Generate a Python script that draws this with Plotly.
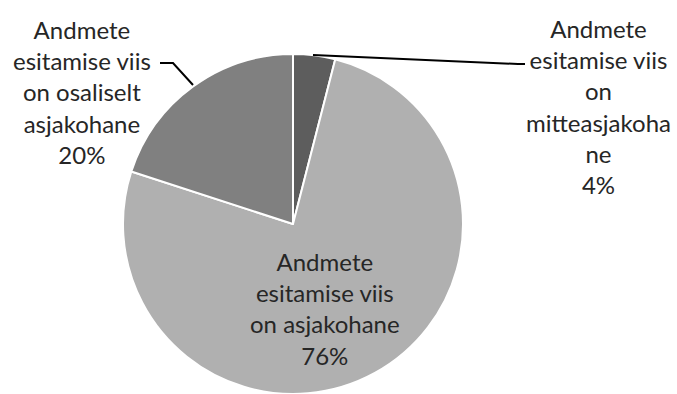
import plotly.graph_objects as go

# Survey answer shares (percent)
categories = [
    "Andmete esitamise viis on mitteasjakohane",
    "Andmete esitamise viis on asjakohane",
    "Andmete esitamise viis on osaliselt asjakohane",
]
shares = [4, 76, 20]
label_lines = [
    ["Andmete", "esitamise viis", "on", "mitteasjakoha", "ne"],
    ["Andmete", "esitamise viis", "on asjakohane"],
    ["Andmete", "esitamise viis", "on osaliselt", "asjakohane"],
]
slice_colors = ["#5d5d5d", "#b0b0b0", "#808080"]

W, H = 677, 394


def px(x, y):
    """Pixel position -> paper coordinates."""
    return x / W, 1 - y / H


fig = go.Figure(
    go.Pie(
        labels=categories,
        values=shares,
        sort=False,
        direction="clockwise",
        rotation=0,
        textinfo="none",
        hoverinfo="label+percent",
        marker=dict(colors=slice_colors, line=dict(color="white", width=2)),
        domain=dict(x=[123 / W, 463 / W], y=[0, 340 / H]),
        showlegend=False,
    )
)

font = dict(family="Lato, Calibri, sans-serif", size=24, color="#262626")
label_pos = [(598, 106), (325, 308), (82, 92)]
for lines, v, (x, y) in zip(label_lines, shares, label_pos):
    text = "<br>".join(lines + [f"{v}%"])
    ax, ay = px(x, y)
    fig.add_annotation(
        x=ax, y=ay, xref="paper", yref="paper", text=text, showarrow=False,
        font=font, align="center", xanchor="center", yanchor="middle",
    )

# Leader lines for the labels placed outside the pie
leaders = [
    [(313, 55), (518, 64), (525, 64)],
    [(193, 85), (173, 63), (160, 63)],
]
for pts in leaders:
    path = "M " + " L ".join(f"{px(x, y)[0]},{px(x, y)[1]}" for x, y in pts)
    fig.add_shape(type="path", path=path, xref="paper", yref="paper",
                  line=dict(color="black", width=2))

fig.update_layout(
    width=W, height=H,
    margin=dict(l=0, r=0, t=0, b=0),
    paper_bgcolor="white",
    plot_bgcolor="white",
)

fig.write_html("out.html")
